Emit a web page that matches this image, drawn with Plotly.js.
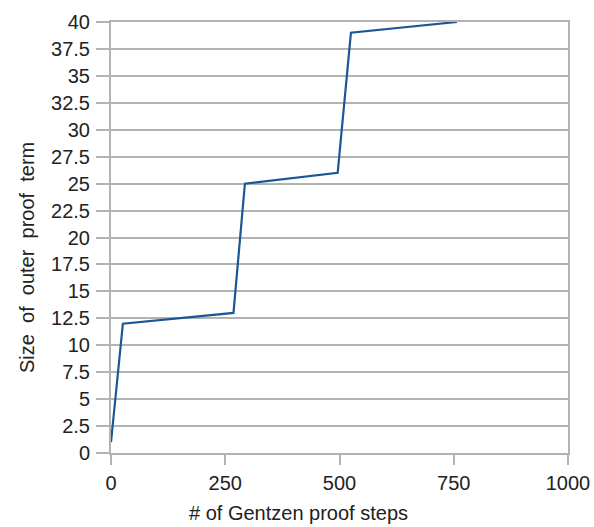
<!DOCTYPE html>
<html>
<head>
<meta charset="utf-8">
<script src="https://cdn.plot.ly/plotly-3.0.1.min.js"></script>
<style>html,body{margin:0;padding:0;background:#fff;}#chart{width:594px;height:527px;}</style>
</head>
<body>
<div id="chart"></div>
<script>
// Data
var proofSteps = [0, 26, 268, 293, 496, 525, 757];
var termSize   = [1, 12, 13, 25, 26, 39, 40];
var xTickVals  = [0, 250, 500, 750, 1000];
var yTickVals  = [0, 2.5, 5, 7.5, 10, 12.5, 15, 17.5, 20, 22.5, 25, 27.5, 30, 32.5, 35, 37.5, 40];
var xTitle = "# of Gentzen proof steps";
var yTitleWords = ["Size", "of", "outer", "proof", "term"];

var gridCol = "#b3b3b3";
var fontFam = "Liberation Sans, Arial, sans-serif";
var gap = " &nbsp;";

var trace = {
  x: proofSteps, y: termSize, type: "scatter", mode: "lines",
  line: {color: "#1b5695", width: 2.2}, hoverinfo: "skip", showlegend: false
};

var layout = {
  width: 594, height: 527,
  margin: {l: 111, r: 26, t: 22, b: 74},
  paper_bgcolor: "#ffffff", plot_bgcolor: "#ffffff",
  font: {family: fontFam, size: 20, color: "#222222"},
  xaxis: {
    range: [0, 1000], tickvals: xTickVals, ticktext: xTickVals.map(String),
    showgrid: false, zeroline: false,
    showline: true, mirror: true, linecolor: gridCol, linewidth: 2,
    ticks: "outside", ticklen: 10, tickwidth: 2, tickcolor: gridCol,
    tickfont: {family: fontFam, size: 20, color: "#222222"}, ticklabelstandoff: 1
  },
  yaxis: {
    range: [0, 40], tickvals: yTickVals, ticktext: yTickVals.map(String),
    showgrid: true, gridcolor: gridCol, gridwidth: 2, zeroline: false,
    showline: true, mirror: true, linecolor: gridCol, linewidth: 2,
    ticks: "outside", ticklen: 13, tickwidth: 2, tickcolor: gridCol,
    tickfont: {family: fontFam, size: 20, color: "#222222"}, ticklabelstandoff: 2
  },
  annotations: [
    {text: xTitle, xref: "paper", yref: "paper", x: (298 - 111) / 457, y: -(513 - 453) / 431,
     xanchor: "center", yanchor: "middle", showarrow: false,
     font: {family: fontFam, size: 20, color: "#222222"}},
    {text: yTitleWords.join(gap), xref: "paper", yref: "paper",
     x: -(111 - 40) / 457, y: (453 - 258) / 431, textangle: -90,
     xanchor: "right", yanchor: "middle", showarrow: false,
     font: {family: fontFam, size: 20, color: "#222222"}}
  ]
};

Plotly.newPlot("chart", [trace], layout, {staticPlot: true, displayModeBar: false});
</script>
</body>
</html>
